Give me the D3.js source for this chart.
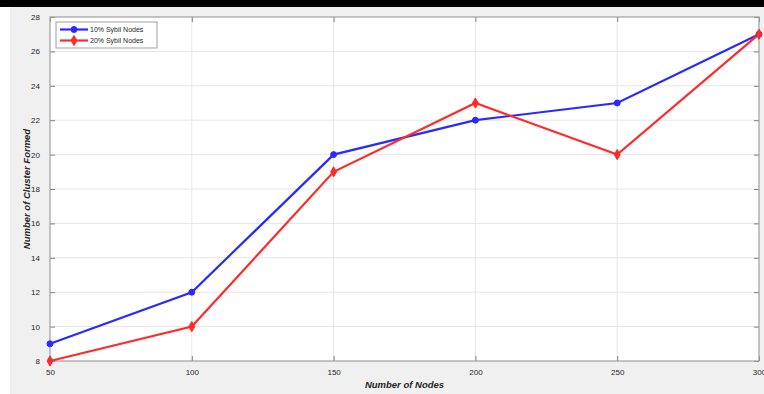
<!DOCTYPE html>
<html>
<head>
<meta charset="utf-8">
<script src="https://cdn.jsdelivr.net/npm/d3@7"></script>
<style>
  html, body { margin: 0; padding: 0; background: #ffffff; }
  svg { display: block; font-family: "Liberation Sans", Arial, sans-serif; }
</style>
</head>
<body>
<svg id="chart" width="764" height="394"></svg>
<script>
// Number of nodes on the x axis
const nodes = [50, 100, 150, 200, 250, 300];
// Clusters formed for each Sybil ratio
const sybil10 = [9, 12, 20, 22, 23, 27];
const sybil20 = [8, 10, 19, 23, 20, 27];
const seriesNames = ["10% Sybil Nodes", "20% Sybil Nodes"];
const xTicks = [50, 100, 150, 200, 250, 300];
const yTicks = [8, 10, 12, 14, 16, 18, 20, 22, 24, 26, 28];

const svg = d3.select("#chart");
const W = 764, H = 394;

// Figure background and top strip
svg.append("rect").attr("x", 0).attr("y", 0).attr("width", W).attr("height", H).attr("fill", "#ffffff");
svg.append("rect").attr("x", 10).attr("y", 7).attr("width", W - 10).attr("height", H - 7).attr("fill", "#f0f0f0");
svg.append("rect").attr("x", 0).attr("y", 0).attr("width", W).attr("height", 7).attr("fill", "#000000");

const m = { left: 50, right: 759, top: 17, bottom: 361 };
const x = d3.scaleLinear().domain([50, 300]).range([m.left, m.right]);
const y = d3.scaleLinear().domain([8, 28]).range([m.bottom, m.top]);

// Plot area
svg.append("rect")
  .attr("x", m.left).attr("y", m.top)
  .attr("width", m.right - m.left).attr("height", m.bottom - m.top)
  .attr("fill", "#ffffff");

// Grid lines
const grid = svg.append("g").attr("stroke", "#e6e6e6").attr("stroke-width", 1);
grid.selectAll("line.gx").data(xTicks.slice(1, -1)).join("line")
  .attr("x1", d => x(d)).attr("x2", d => x(d))
  .attr("y1", m.top).attr("y2", m.bottom);
grid.selectAll("line.gy").data(yTicks.slice(1, -1)).join("line")
  .attr("y1", d => y(d)).attr("y2", d => y(d))
  .attr("x1", m.left).attr("x2", m.right);

// Axes with inward ticks
const axisColor = "#262626";
function styleAxis(g) {
  g.select(".domain").remove();
  g.selectAll(".tick line").attr("stroke", "#7f7f7f");
  g.selectAll(".tick text").attr("fill", axisColor).attr("font-size", 8);
}
svg.append("g").attr("transform", `translate(0,${m.bottom})`)
  .call(d3.axisBottom(x).tickValues(xTicks).tickSize(-5).tickPadding(8).tickFormat(d3.format("d")))
  .call(styleAxis);
svg.append("g").attr("transform", `translate(0,${m.top})`)
  .call(d3.axisTop(x).tickValues(xTicks).tickSize(-5).tickFormat(""))
  .call(styleAxis);
svg.append("g").attr("transform", `translate(${m.left},0)`)
  .call(d3.axisLeft(y).tickValues(yTicks).tickSize(-5).tickPadding(10).tickFormat(d3.format("d")))
  .call(styleAxis);
svg.append("g").attr("transform", `translate(${m.right},0)`)
  .call(d3.axisRight(y).tickValues(yTicks).tickSize(-5).tickFormat(""))
  .call(styleAxis);

// Plot box
svg.append("rect")
  .attr("x", m.left).attr("y", m.top)
  .attr("width", m.right - m.left).attr("height", m.bottom - m.top)
  .attr("fill", "none").attr("stroke", "#a0a0a0").attr("stroke-width", 1.2);

// Series
const blue = "#2a2aff", red = "#ff2a2a";
const line = d3.line().x(d => x(d[0])).y(d => y(d[1]));
const s1 = nodes.map((n, i) => [n, sybil10[i]]);
const s2 = nodes.map((n, i) => [n, sybil20[i]]);

svg.append("path").datum(s1).attr("d", line)
  .attr("fill", "none").attr("stroke", blue).attr("stroke-width", 2.2);
svg.append("path").datum(s2).attr("d", line)
  .attr("fill", "none").attr("stroke", red).attr("stroke-width", 2.2);

const circleSym = d3.symbol().type(d3.symbolCircle).size(28);
const diamondSym = d3.symbol().type(d3.symbolDiamond).size(30);

svg.append("g").selectAll("path").data(s1).join("path")
  .attr("d", circleSym)
  .attr("transform", d => `translate(${x(d[0])},${y(d[1])})`)
  .attr("fill", blue).attr("stroke", blue).attr("stroke-width", 1);
svg.append("g").selectAll("path").data(s2).join("path")
  .attr("d", diamondSym)
  .attr("transform", d => `translate(${x(d[0])},${y(d[1])})`)
  .attr("fill", red).attr("stroke", red).attr("stroke-width", 1);

// Axis titles
svg.append("text")
  .attr("x", (m.left + m.right) / 2).attr("y", 388)
  .attr("text-anchor", "middle").attr("font-size", 9.5)
  .attr("font-weight", "bold").attr("font-style", "italic").attr("fill", axisColor)
  .text("Number of Nodes");
svg.append("text")
  .attr("transform", `translate(30,${(m.top + m.bottom) / 2}) rotate(-90)`)
  .attr("text-anchor", "middle").attr("font-size", 9.5)
  .attr("font-weight", "bold").attr("font-style", "italic").attr("fill", axisColor)
  .text("Number of Cluster Formed");

// Legend
const lg = svg.append("g").attr("transform", "translate(56,22)");
lg.append("rect").attr("width", 101).attr("height", 26)
  .attr("fill", "#ffffff").attr("stroke", "#a0a0a0").attr("stroke-width", 1);
const legendItems = [
  { name: seriesNames[0], color: blue, sym: circleSym },
  { name: seriesNames[1], color: red, sym: diamondSym }
];
legendItems.forEach((it, i) => {
  const yy = 7.5 + i * 11;
  lg.append("line").attr("x1", 4).attr("x2", 32).attr("y1", yy).attr("y2", yy)
    .attr("stroke", it.color).attr("stroke-width", 2.2);
  lg.append("path").attr("d", it.sym).attr("transform", `translate(18,${yy})`)
    .attr("fill", it.color).attr("stroke", it.color);
  lg.append("text").attr("x", 34).attr("y", yy + 2.5)
    .attr("font-size", 7).attr("fill", axisColor).text(it.name);
});
</script>
</body>
</html>
